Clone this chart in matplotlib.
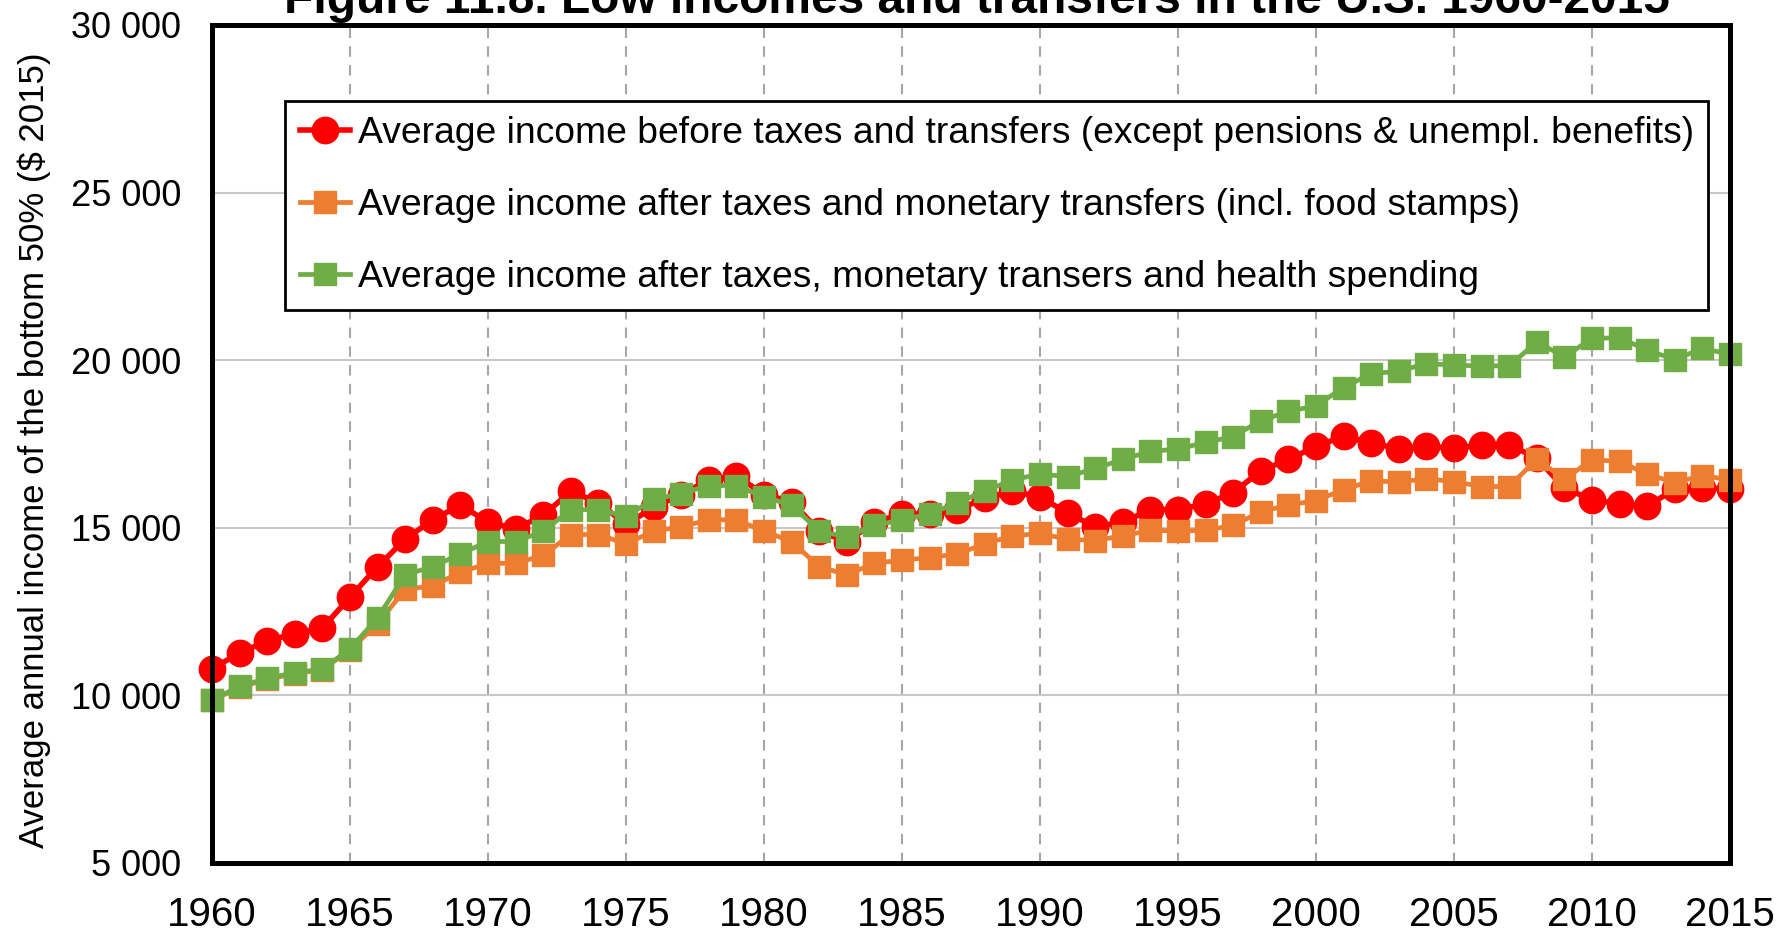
import matplotlib
matplotlib.use('Agg')
import matplotlib.pyplot as plt
from matplotlib.ticker import FuncFormatter, MultipleLocator

plt.rcParams['font.family'] = ['Liberation Sans', 'DejaVu Sans']

# ---------------------------------------------------------------------------
# Data ($ 2015)
# ---------------------------------------------------------------------------
YEARS = list(range(1960, 2016))

PRETAX = [10800, 11260, 11630, 11840, 12010, 12930, 13840, 14660, 15240, 15680,
          15170, 14970, 15370, 16090, 15750, 15100, 15610, 15990, 16430, 16560,
          15990, 15780, 14900, 14590, 15170, 15410, 15410, 15540, 15880, 16090,
          15920, 15440, 15030, 15170, 15540, 15540, 15710, 16050, 16700, 17040,
          17430, 17730, 17530, 17360, 17430, 17380, 17460, 17480, 17080, 16180,
          15840, 15720, 15640, 16160, 16190, 16160]

POSTTAX_MONETARY = [9850, 10240, 10480, 10650, 10760, 11360, 12140, 13160, 13270, 13670,
                    13940, 13940, 14180, 14800, 14800, 14520, 14900, 15030, 15240, 15240,
                    14900, 14590, 13840, 13600, 13940, 14040, 14110, 14220, 14520, 14760,
                    14830, 14660, 14620, 14760, 14930, 14900, 14930, 15070, 15480, 15680,
                    15810, 16140, 16400, 16370, 16460, 16380, 16230, 16230, 17050, 16450,
                    17030, 16980, 16600, 16350, 16560, 16430]

POSTTAX_HEALTH = [9860, 10270, 10510, 10680, 10780, 11390, 12310, 13600, 13840, 14220,
                  14590, 14590, 14900, 15540, 15540, 15340, 15850, 16020, 16260, 16260,
                  15920, 15680, 14900, 14730, 15070, 15240, 15410, 15750, 16090, 16430,
                  16600, 16530, 16770, 17040, 17280, 17350, 17550, 17720, 18200, 18470,
                  18640, 19185, 19600, 19670, 19900, 19850, 19830, 19830, 20546, 20100,
                  20650, 20670, 20300, 20020, 20350, 20180]

LABELS = [
    'Average income before taxes and transfers (except pensions & unempl. benefits)',
    'Average income after taxes and monetary transfers (incl. food stamps)',
    'Average income after taxes, monetary transers and health spending',
]

RED = '#FF0000'
ORANGE = '#ED7D31'
GREEN = '#70AD47'

# ---------------------------------------------------------------------------
# Figure
# ---------------------------------------------------------------------------
fig = plt.figure(figsize=(17.88, 9.34), dpi=100)
ax = fig.add_axes([212 / 1788, 1 - 863 / 934, (1730 - 212) / 1788, (863 - 25) / 934])

ax.plot(YEARS, PRETAX, color=RED, lw=4.0, marker='o', ms=19,
        label=LABELS[0], clip_on=False)
ax.plot(YEARS, POSTTAX_MONETARY, color=ORANGE, lw=3.4, marker='s', ms=16,
        label=LABELS[1], clip_on=False)
ax.plot(YEARS, POSTTAX_HEALTH, color=GREEN, lw=3.4, marker='s', ms=16,
        label=LABELS[2], clip_on=False)

ax.set_xlim(1960, 2015)
ax.set_ylim(5000, 30000)
ax.xaxis.set_major_locator(MultipleLocator(5))
ax.yaxis.set_major_locator(MultipleLocator(5000))
ax.yaxis.set_major_formatter(FuncFormatter(lambda v, p: f'{int(v):,}'.replace(',', ' ')))

# gridlines: solid horizontal, dashed vertical
ax.grid(axis='y', color='#c8c8c8', lw=1.5, ls='-')
ax.grid(axis='x', color='#a6a6a6', lw=1.5, ls=(0, (5, 4)))
ax.set_axisbelow(True)

ax.tick_params(axis='both', length=0)
ax.tick_params(axis='y', labelsize=26, pad=22)
ax.tick_params(axis='x', labelsize=29, pad=24)

for spine in ax.spines.values():
    spine.set_linewidth(3.6)
    spine.set_color('black')

fig.text(34 / 1788, 0.5 - (450 - 467) / 934, 'Average annual income of the bottom 50% ($ 2015)',
         rotation=90, ha='center', va='center', fontsize=25)

fig.text(977 / 1788, 1 - 13 / 934, 'Figure 11.8. Low incomes and transfers in the U.S. 1960-2015',
         ha='center', va='baseline', fontsize=34.5, fontweight='bold')

leg = ax.legend(loc='upper left', bbox_to_anchor=((285 - 212) / 1518, (863 - 101) / 838),
                borderaxespad=0, fontsize=26.8, frameon=True, fancybox=False,
                framealpha=1, edgecolor='black', handlelength=1.35,
                handletextpad=0.2, labelspacing=1.0, borderpad=0.4)
leg.get_frame().set_linewidth(2.0)

fig.savefig('out.png', dpi=100, facecolor='white')
